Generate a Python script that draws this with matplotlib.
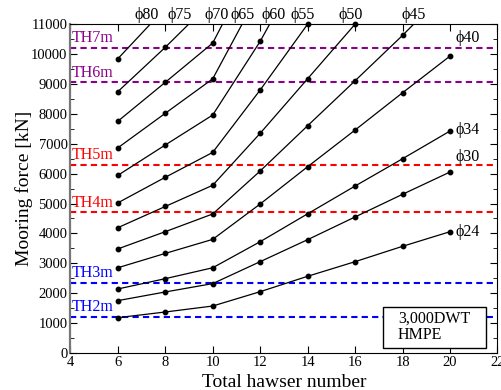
"""
Mooring force vs total hawser number (3,000DWT, HMPE).
"""
import numpy as np
import matplotlib
matplotlib.use("Agg")
import matplotlib.pyplot as plt
from matplotlib.patches import Rectangle

plt.rcParams.update({
    "font.family": ["Liberation Serif", "DejaVu Serif"],
    "font.size": 10.5,
})

hawsers = [6, 8, 10, 12, 14, 16, 18, 20]

# mooring force [kN] per rope diameter; values above 11000 are where lines leave the frame
force = {
    "24": [1180, 1370, 1570, 2050, 2565, 3054, 3568, 4057],
    "30": [1750, 2040, 2320, 3054, 3790, 4550, 5308, 6054],
    "34": [2140, 2485, 2850, 3722, 4655, 5585, 6498, 7425],
    "40": [2850, 3330, 3800, 4983, 6231, 7458, 8706, 9933],
    "45": [3480, 4057, 4650, 6087, 7602, 9107, 10625, 12225],
    "50": [4190, 4900, 5610, 7348, 9174, 11000, 12800],
    "55": [5020, 5876, 6710, 8796, 11000, 12900],
    "60": [5940, 6957, 7960, 10424, 13300],
    "65": [6860, 8017, 9170, 12122],
    "70": [7750, 9053, 10368, 13430],
    "75": [8740, 10224, 11792],
    "80": [9840, 11534],
}

# label positions for the curves
top_labels = {"80": 7.22, "75": 8.6, "70": 10.15, "65": 11.27,
              "60": 12.58, "55": 13.8, "50": 15.8, "45": 18.47}
side_labels = {"40": 10525, "34": 7458, "30": 6565, "24": 4057}

thresholds = ["TH7m", "TH6m", "TH5m", "TH4m", "TH3m", "TH2m"]
th_force = [10200, 9050, 6300, 4700, 2350, 1200]
th_colors = ["#8b008b", "#8b008b", "#ff0000", "#ff0000", "#0000ff", "#0000ff"]

fig = plt.figure(figsize=(5.02, 3.90), dpi=100)
ax = fig.add_axes([0.140, 0.095, 0.851, 0.843])

for name, th, c in zip(thresholds, th_force, th_colors):
    ax.axhline(th, color=c, ls=(0, (3, 2)), lw=1.5, zorder=1)
    ax.text(4.08, th + 330, name, color=c, fontsize=11.5, ha="left",
            va="center", zorder=3)

for key, vals in force.items():
    x = np.array(hawsers[:len(vals)])
    y = np.array(vals)
    ax.plot(x, y, color="black", lw=0.9, zorder=2)
    m = y <= 11000
    ax.plot(x[m], y[m], "o", color="black", ms=3.2, clip_on=False, zorder=4)

for key, xp in top_labels.items():
    ax.text(xp, 11300, "\u03d5" + key, fontsize=11.5, ha="center",
            va="center", clip_on=False)
for key, yp in side_labels.items():
    ax.text(20.25, yp, "\u03d5" + key, fontsize=11.5, ha="left", va="center")

# annotation box
ax.add_patch(Rectangle((17.17, 160), 4.36, 1390, facecolor="white",
                       edgecolor="black", lw=1.0, zorder=5))
ax.text(17.8, 1160, "3,000DWT", fontsize=11.5, ha="left", va="center", zorder=6)
ax.text(17.8, 600, "HMPE", fontsize=11.5, ha="left", va="center", zorder=6)

ax.set_xlim(4, 22)
ax.set_ylim(0, 11000)
ax.set_xticks(np.arange(4, 23, 2))
ax.set_yticks(np.arange(0, 11001, 1000))
ax.set_yticks(np.arange(500, 11000, 1000), minor=True)
ax.tick_params(which="both", direction="in", right=True, top=True,
               labelsize=10.5, pad=2)
ax.tick_params(which="major", length=5)
ax.tick_params(which="minor", length=3)
ax.spines["left"].set_color("#777777")
ax.spines["left"].set_linewidth(1.6)

ax.set_xlabel("Total hawser number", fontsize=14, labelpad=4)
ax.set_ylabel("Mooring force [kN]", fontsize=14, labelpad=-1)

fig.savefig("out.png", dpi=100)
